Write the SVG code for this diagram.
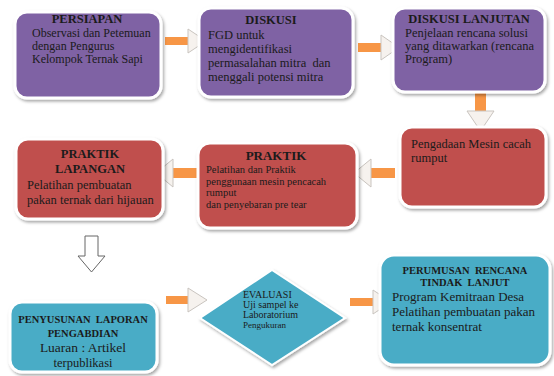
<svg xmlns="http://www.w3.org/2000/svg" width="554" height="376" viewBox="0 0 554 376">
<defs>
<filter id="sh" x="-10%" y="-10%" width="125%" height="130%">
<feDropShadow dx="1.5" dy="2" stdDeviation="1.8" flood-color="#000" flood-opacity="0.35"/>
</filter>
<style>
.box{stroke:#ffffff;stroke-width:3;filter:url(#sh)}
.pur{fill:#7f62a4}
.red{fill:#c0504d}
.blu{fill:#4aacc6}
text{font-family:"Liberation Serif","Times New Roman",serif;fill:#1b1b1b}
.t{font-weight:bold;font-size:12.5px;text-anchor:middle}
.ts{font-weight:bold;font-size:10.5px;text-anchor:middle}
.b{font-size:12.5px}
.s{font-size:10px}
.shaft{fill:#f79646}
.head{fill:#f6f2ee;stroke:#c9c4bf;stroke-width:1}
</style>
</defs>
<rect width="554" height="376" fill="#ffffff"/>
<g id="connectors">
<g><rect class="shaft" x="165" y="37" width="25" height="8"/><polygon class="head" points="188,29 188,53 206,41"/></g>
<g><rect class="shaft" x="358" y="43" width="25" height="9"/><polygon class="head" points="381,35 381,60 399,47.5"/></g>
<g><rect class="shaft" x="475" y="93" width="11" height="20"/><polygon class="head" points="467,111 494,111 480.5,131"/></g>
<g><rect class="shaft" x="368" y="168" width="27" height="10"/><polygon class="head" points="371,159 371,187 354,173"/></g>
<g><rect class="shaft" x="170" y="168" width="27" height="10"/><polygon class="head" points="173,159 173,187 156,173"/></g>
<polygon points="85,236 98,236 98,256 105,256 91.5,272 78,256 85,256" fill="#ffffff" stroke="#666" stroke-width="1"/>
<g><rect class="shaft" x="166" y="296" width="24" height="8"/><polygon class="head" points="188,288 188,312 207,300"/></g>
<g><rect class="shaft" x="350" y="298" width="25" height="8"/><polygon class="head" points="373,290 373,314 391,302"/></g>
</g>
<g id="persiapan">
<rect class="box pur" x="15" y="12" width="146" height="86" rx="12"/>
<text class="t" x="87" y="23">PERSIAPAN</text>
<text class="b" x="32" y="37" style="font-size:12px">Observasi dan Petemuan</text>
<text class="b" x="32" y="50" style="font-size:12px">dengan Pengurus</text>
<text class="b" x="32" y="63" style="font-size:12px">Kelompok Ternak Sapi</text>
</g>
<g id="diskusi">
<rect class="box pur" x="199" y="8" width="154" height="89" rx="12"/>
<text class="t" x="271" y="24">DISKUSI</text>
<text class="b" x="208" y="39">FGD untuk</text>
<text class="b" x="208" y="53">mengidentifikasi</text>
<text class="b" x="208" y="67">permasalahan mitra&#160; dan</text>
<text class="b" x="208" y="81">menggali potensi mitra</text>
</g>
<g id="diskusi-lanjutan">
<rect class="box pur" x="393" y="8" width="152" height="84" rx="12"/>
<text class="t" x="469" y="23">DISKUSI LANJUTAN</text>
<text class="b" x="405" y="37">Penjelaan rencana solusi</text>
<text class="b" x="405" y="50">yang ditawarkan (rencana</text>
<text class="b" x="405" y="63">Program)</text>
</g>
<g id="pengadaan">
<rect class="box red" x="400" y="127" width="146" height="80" rx="12"/>
<text class="b" x="411" y="148">Pengadaan Mesin cacah</text>
<text class="b" x="411" y="162">rumput</text>
</g>
<g id="praktik">
<rect class="box red" x="198" y="143" width="159" height="85" rx="12"/>
<text class="t" x="276" y="160" style="font-size:13px">PRAKTIK</text>
<text class="s" x="206" y="173" style="font-size:10.5px">Pelatihan dan Praktik</text>
<text class="s" x="206" y="185" style="font-size:10.5px">penggunaan mesin pencacah</text>
<text class="s" x="206" y="196" style="font-size:10.5px">rumput</text>
<text class="s" x="206" y="208" style="font-size:10.5px">dan penyebaran pre tear</text>
</g>
<g id="praktik-lapangan">
<rect class="box red" x="16" y="139" width="147" height="80" rx="12"/>
<text class="t" x="90" y="158" style="font-size:12.5px">PRAKTIK</text>
<text class="t" x="90" y="173" style="font-size:12.5px">LAPANGAN</text>
<text class="b" x="27" y="189">Pelatihan pembuatan</text>
<text class="b" x="27" y="204">pakan ternak dari hijauan</text>
</g>
<g id="penyusunan">
<rect class="box blu" x="10" y="302" width="147" height="70" rx="12"/>
<text class="ts" x="83" y="323">PENYUSUNAN&#160; LAPORAN</text>
<text class="ts" x="83" y="337">PENGABDIAN</text>
<text class="b" x="83" y="352" text-anchor="middle" style="font-size:13.5px">Luaran : Artikel</text>
<text class="b" x="83" y="367" text-anchor="middle" style="font-size:12.5px">terpublikasi</text>
</g>
<g id="evaluasi">
<polygon class="box blu" points="200,318 272,270 345,318 272,365" style="stroke-width:2"/>
<text class="s" x="243" y="298">EVALUASI</text>
<text class="s" x="243" y="308">Uji sampel ke</text>
<text class="s" x="243" y="318">Laboratorium</text>
<text class="s" x="243" y="328" style="font-size:9px">Pengukuran</text>
</g>
<g id="perumusan">
<rect class="box blu" x="380" y="255" width="170" height="110" rx="14"/>
<text class="ts" x="465" y="274">PERUMUSAN&#160; RENCANA</text>
<text class="ts" x="465" y="286">TINDAK&#160; LANJUT</text>
<text class="b" x="392" y="301" style="font-size:13px">Program Kemitraan Desa</text>
<text class="b" x="392" y="316" style="font-size:13px">Pelatihan pembuatan pakan</text>
<text class="b" x="392" y="331" style="font-size:13px">ternak konsentrat</text>
</g>
</svg>
